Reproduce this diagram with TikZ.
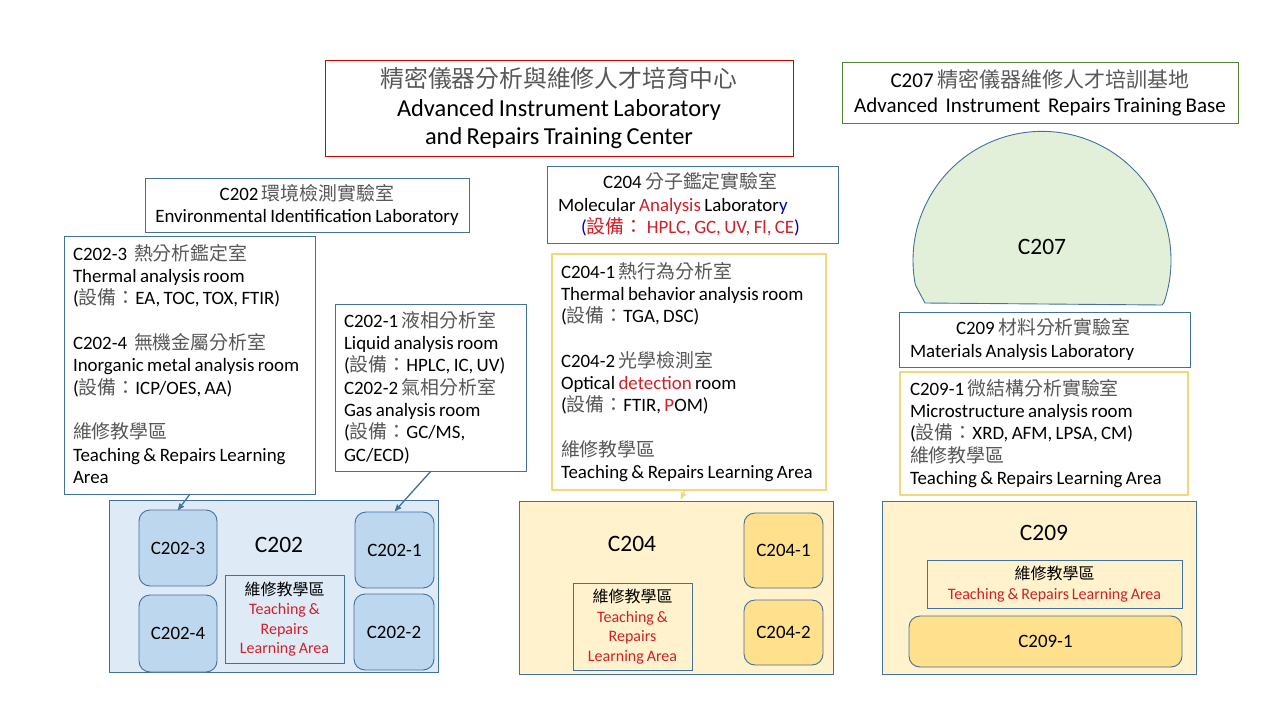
\documentclass[tikz,border=0pt]{standalone}
\usepackage{fontspec}
\setmainfont[WordSpace=0.8]{Carlito}
\newfontfamily\cjk{Noto Sans CJK TC}
\usepackage{xcolor}
\usetikzlibrary{arrows}
\definecolor{linkblue}{HTML}{41719C}
\definecolor{linkgreen}{HTML}{548235}
\definecolor{roomblue}{HTML}{DEEBF7}
\definecolor{cellblue}{HTML}{BDD7EE}
\definecolor{roomyellow}{HTML}{FFF2CC}
\definecolor{cellyellow}{HTML}{FFE08C}
\definecolor{lineyellow}{HTML}{F5D876}
\definecolor{segmentgreen}{HTML}{E2F0D9}
\definecolor{markred}{HTML}{D02028}
\definecolor{zhgray}{HTML}{585858}
\newcommand{\zh}[1]{{\cjk\color{zhgray}#1}}
\newcommand{\zk}[1]{{\cjk #1}}
\newcommand{\mk}[1]{\textcolor{markred}{#1}}
\begin{document}
\begin{tikzpicture}[x=1pt,y=-1pt,>=stealth',
  main box/.style={draw=linkblue,line width=0.9pt,fill=white,inner sep=0pt,
    font=\fontsize{18.9}{22.3}\selectfont},
  text box/.style={main box,align=left,inner xsep=9pt,
    execute at begin node={\spaceskip=0pt\relax\xspaceskip=0pt\relax}},
  yellow box/.style={text box,draw=lineyellow,line width=1.8pt},
  room/.style={draw=linkblue,line width=0.9pt,minimum width=#1},
  cell/.style={draw=linkblue,line width=0.9pt,rounded corners=11pt,
    font=\fontsize{18.9}{20}\selectfont},
  teach box/.style={draw=linkblue,line width=0.9pt,align=center,inner sep=0pt,
    font=\fontsize{16}{19.5}\selectfont},
  room name/.style={font=\fontsize{23.5}{24}\selectfont},
  link/.style={->,line width=1.3pt,draw=linkblue}]

  \useasboundingbox (0,0) rectangle (1280,720);
  \fill[white] (0,0) rectangle (1280,720);

  % headings
  \node[main box,draw=red!85!black,align=center,minimum width=468pt,minimum height=96pt,
    font=\fontsize{24.4}{28.5}\selectfont] (centre) at (559,108)
    {{\fontsize{23.8}{28.5}\selectfont\zh{精密儀器分析與維修人才培育中心}}\\
     Advanced Instrument Laboratory\\and Repairs Training Center};
  \node[main box,draw=linkgreen,align=center,minimum width=396pt,minimum height=61pt,
    font=\fontsize{21}{25}\selectfont] (base) at (1040,92.5)
    {C207 \zh{精密儀器維修人才培訓基地}\\Advanced\ \ Instrument\ \ Repairs Training Base};

  % C202
  \node[main box,align=center,minimum width=324pt,minimum height=54pt] (labA) at (307,205)
    {C202 \zh{環境檢測實驗室}\\Environmental Identification Laboratory};
  \node[text box,text width=233pt,minimum height=258pt] (infoA) at (189.5,365)
    {C202-3\ \ \zh{熱分析鑑定室}\\
     Thermal analysis room\\
     (\zh{設備：}EA, TOC, TOX, FTIR)\\[22.3pt]
     C202-4\ \ \zh{無機金屬分析室}\\
     Inorganic metal analysis room\\
     (\zh{設備：}ICP/OES, AA)\\[22.3pt]
     \zh{維修教學區}\\
     Teaching \& Repairs Learning\\
     Area\\[-20pt]\mbox{}};
  \node[text box,text width=173pt,minimum height=167pt] (infoB) at (430.5,387.5)
    {C202-1 \zh{液相分析室}\\
     Liquid analysis room\\
     (\zh{設備：}HPLC, IC, UV)\\
     C202-2 \zh{氣相分析室}\\
     Gas analysis room\\
     (\zh{設備：}GC/MS,\\
     GC/ECD)};
  \node[room=329pt,fill=roomblue,minimum height=172pt] (roomA) at (273.5,586) {};
  \node[cell,fill=cellblue,minimum width=78pt,minimum height=76pt] (cellAc) at (178,548) {C202-3};
  \node[cell,fill=cellblue,minimum width=79pt,minimum height=76pt] (cellAa) at (394.5,550) {C202-1};
  \node[cell,fill=cellblue,minimum width=78pt,minimum height=77pt] (cellAd) at (178,633.5) {C202-4};
  \node[cell,fill=cellblue,minimum width=80pt,minimum height=76pt] (cellAb) at (394,632) {C202-2};
  \node[teach box,minimum width=119pt,minimum height=88pt] (teachA) at (284.5,619)
    {\zk{維修教學區}\\\mk{Teaching \&}\\\mk{Repairs}\\\mk{Learning Area}};
  \node[room name] (nameA) at (279,544.5) {C202};
  \draw[link] (190,494) -- (178,510);
  \draw[link] (431,471) -- (395,511);

  % C204
  \node[text box,inner xsep=11pt,text width=269pt,minimum height=77pt] (labB) at (692.5,204.5)
    {\hspace*{45pt}C204 \zh{分子鑑定實驗室}\\
     Molecular \mk{Analysis} Laborator\textcolor{blue!70!black}{y}\\
     \hspace*{23pt}\textcolor{blue!70!black}{(}\mk{{\cjk 設備：} HPLC, GC, UV, Fl, CE}\textcolor{blue!70!black}{)}};
  \node[yellow box,text width=256pt,minimum height=236pt] (infoC) at (689,372)
    {C204-1 \zh{熱行為分析室}\\
     Thermal behavior analysis room\\
     (\zh{設備：}TGA, DSC)\\[22.3pt]
     C204-2 \zh{光學檢測室}\\
     Optical \mk{detection} room\\
     (\zh{設備：}FTIR, \mk{P}OM)\\[22.3pt]
     \zh{維修教學區}\\
     Teaching \& Repairs Learning Area};
  \node[room=314pt,fill=roomyellow,minimum height=173pt] (roomB) at (676,587.5) {};
  \node[cell,fill=cellyellow,minimum width=79pt,minimum height=75pt] (cellBa) at (783.5,550.5) {C204-1};
  \node[cell,fill=cellyellow,minimum width=79pt,minimum height=65pt] (cellBb) at (783.5,632.5) {C204-2};
  \node[teach box,minimum width=119pt,minimum height=87pt] (teachB) at (632.5,626.5)
    {\zk{維修教學區}\\\mk{Teaching \&}\\\mk{Repairs}\\\mk{Learning Area}};
  \node[room name] (nameB) at (632,543.5) {C204};
  \draw[link,draw=lineyellow] (685,490) -- (681,499);

  % C207
  \draw[draw=linkblue,line width=0.9pt,fill=segmentgreen]
    (925,303) -- (915.4,285) arc[start angle=191,end angle=-19,radius=129pt] -- (1162,305) -- cycle;
  \node[room name] (nameC) at (1042,246.5) {C207};

  % C209
  \node[text box,inner xsep=11pt,text width=269pt,minimum height=55pt] (labD) at (1044.5,339.5)
    {\hspace*{46pt}C209 \zh{材料分析實驗室}\\Materials Analysis Laboratory};
  \node[yellow box,inner xsep=10pt,text width=268pt,minimum height=123pt] (infoD) at (1044,433.5)
    {C209-1 \zh{微結構分析實驗室}\\
     Microstructure analysis room\\
     (\zh{設備：}XRD, AFM, LPSA, CM)\\
     \zh{維修教學區}\\
     Teaching \& Repairs Learning Area};
  \node[room=314pt,fill=roomyellow,minimum height=173pt] (roomD) at (1039,587.5) {};
  \node[teach box,minimum width=255pt,minimum height=48pt] (teachD) at (1054.5,584)
    {\zk{維修教學區}\\\mk{Teaching \& Repairs Learning Area}};
  \node[cell,fill=cellyellow,minimum width=273pt,minimum height=51pt] (cellDa) at (1045.5,641.5) {C209-1};
  \node[room name] (nameD) at (1044,532.5) {C209};
\end{tikzpicture}
\end{document}
